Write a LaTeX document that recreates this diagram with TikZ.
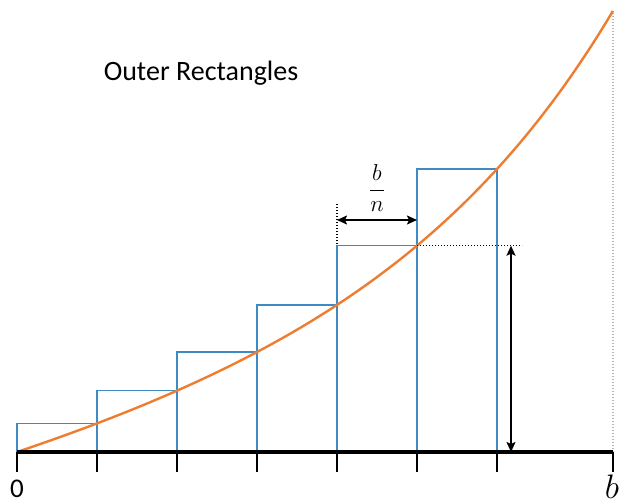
\RequirePackage{fix-cm}
\documentclass[tikz,border=0pt]{standalone}
\usepackage{fontspec}
\setmainfont{Carlito}
\usetikzlibrary{arrows.meta}
\definecolor{rectblue}{RGB}{62,138,196}
\definecolor{curveorange}{RGB}{237,125,49}
\pgfmathdeclarefunction{fh}{1}{\pgfmathparse{21.95*(exp(0.36*#1)-1)+19.1*#1}}
\tikzset{
  rectbox/.style={draw=rectblue, line width=1.5pt},
  curveline/.style={draw=curveorange, line width=2.4pt},
  axisline/.style={draw=black, line width=3.6pt},
  tickline/.style={draw=black, line width=2.2pt},
  dimarrow/.style={draw=black, line width=1.7pt, {Stealth[length=10pt,width=9pt,inset=2pt]}-{Stealth[length=10pt,width=9pt,inset=2pt]}},
  dotline/.style={draw=black, line width=1.4pt, dash pattern=on 1.4pt off 1.6pt},
  lab/.style={inner sep=0pt},
}
\begin{document}
\begin{tikzpicture}[x=1pt,y=-1pt]
\useasboundingbox (0,0) rectangle (622,504);
% axis points
\coordinate (a0) at (17,452);
\coordinate (a1) at (97,452);
\coordinate (a2) at (177,452);
\coordinate (a3) at (257,452);
\coordinate (a4) at (337,452);
\coordinate (a5) at (417,452);
\coordinate (a6) at (497,452);
\coordinate (ab) at (613,452);
% curve points
\coordinate (c1) at (97,{452-fh(1)});
\coordinate (c2) at (177,{452-fh(2)});
\coordinate (c3) at (257,{452-fh(3)});
\coordinate (c4) at (337,{452-fh(4)});
\coordinate (c5) at (417,{452-fh(5)});
\coordinate (c6) at (497,{452-fh(6)});
\coordinate (cb) at (613,{452-fh(7.45)});
% rectangles
\draw[rectbox] (a0) rectangle (c1);
\draw[rectbox] (a1) rectangle (c2);
\draw[rectbox] (a2) rectangle (c3);
\draw[rectbox] (a3) rectangle (c4);
\draw[rectbox] (a4) rectangle (c5);
\draw[rectbox] (a5) rectangle (c6);
% dotted gray line at b
\draw[gray!60, line width=1.3pt, dash pattern=on 1.3pt off 1.7pt] (ab) -- (cb);
% curve
\draw[curveline] plot[domain=0:7.45, samples=90] ({17+80*\x},{452-fh(\x)});
% axis
\draw[axisline] (a0) -- (ab);
\foreach \p in {a0,a1,a2,a3,a4,a5,a6,ab}
  \draw[tickline] (\p) -- ++(0,20);
% height dimension
\coordinate (hx) at (522,452);
\coordinate (vb) at (511,452);
\coordinate (hd) at (c5 -| hx);
\coordinate (vt) at (c5 -| vb);
\draw[dotline] (c5) -- (hd);
\draw[dimarrow] (vt) -- (vb);
% width dimension
\coordinate (wt) at (337,204);
\coordinate (wb) at (337,244);
\draw[dotline] (wt) -- (wb);
\coordinate (wl) at (337,220);
\coordinate (wr) at (417,220);
\draw[dimarrow] (wl) -- (wr);
\node[lab] (frac) at (377,188) {\fontsize{23}{26}\selectfont$\displaystyle\frac{b}{n}$};
% labels
\node[lab] (title) at (201,73) {\fontsize{28}{32}\selectfont Outer Rectangles};
\node[lab] (zero) at (17,489) {\fontsize{27}{29}\selectfont 0};
\node[lab] (blab) at (612,487) {\fontsize{34}{36}\selectfont$b$};
\end{tikzpicture}
\end{document}
